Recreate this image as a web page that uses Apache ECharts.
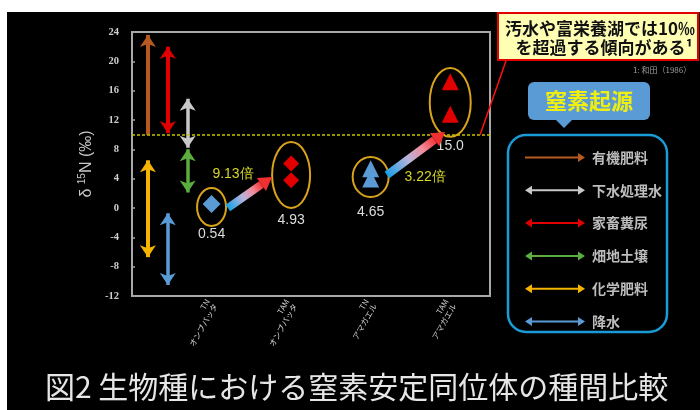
<!DOCTYPE html>
<html>
<head>
<meta charset="utf-8">
<script src="https://cdn.jsdelivr.net/npm/echarts@6/dist/echarts.min.js"></script>
<style>
  html, body { margin: 0; padding: 0; background: #000; }
  #chart { width: 700px; height: 410px; }
</style>
</head>
<body>
<div id="chart"></div>
<script>
// ---- data -------------------------------------------------------------
const yTicks = [-12, -8, -4, 0, 4, 8, 12, 16, 20, 24];
const categories = ['TN\nオンブバッタ', 'TAM\nオンブバッタ', 'TN\nアマガエル', 'TAM\nアマガエル'];
const categoryPos = [2, 4, 6, 8];

// δ15N (‰) of the individual samples
const tnOnbu = [0.54];
const tamOnbu = [6.06, 3.80];
const tnAma = [5.35, 3.95];
const tamAma = [17.2, 12.8];
const meanLabels = ['0.54', '4.93', '4.65', '15.0'];
const ratioLabels = ['9.13倍', '3.22倍'];

// typical δ15N ranges of nitrogen sources (‰)
const sourceNames = ['有機肥料', '下水処理水', '家畜糞尿', '畑地土壌', '化学肥料', '降水'];
const sourceLow = [10.0, 8.2, 10.2, 2.1, -6.7, -10.5];
const sourceHigh = [23.6, 14.9, 22.0, 8.0, 6.5, -0.7];

const threshold = 10;

// ---- drawing ----------------------------------------------------------
const JP = '"Noto Sans CJK JP", "Noto Sans", sans-serif';
const chart = echarts.init(document.getElementById('chart'));

const sourceStyle = [
  { color: '#b65a22', x: 0.4, width: 4,   heads: ['none', 'arrow'] },
  { color: '#c8c8c8', x: 1.4, width: 3.5, heads: ['arrow', 'arrow'] },
  { color: '#e00000', x: 0.9, width: 4,   heads: ['arrow', 'arrow'] },
  { color: '#5aad3e', x: 1.4, width: 3.5, heads: ['arrow', 'arrow'] },
  { color: '#f5b400', x: 0.4, width: 4,   heads: ['arrow', 'arrow'] },
  { color: '#5b9bd5', x: 0.9, width: 3.5, heads: ['arrow', 'arrow'] }
];

const sampleGroups = [tnOnbu, tamOnbu, tnAma, tamAma];
const sampleStyle = [
  { symbol: 'diamond',  color: '#5b9bd5', size: 18 },
  { symbol: 'diamond',  color: '#e00000', size: 16 },
  { symbol: 'triangle', color: '#5b9bd5', size: 17 },
  { symbol: 'triangle', color: '#e00000', size: 17 }
];

// outline rings around each group (value extents) and the gap to the mean label
const rings = [
  { top: 2.73, bottom: -2.45, rx: 14.5, gap: 8 },
  { top: 9.0,  bottom: 0.0,   rx: 19,   gap: 12 },
  { top: 6.95, bottom: 1.5,   rx: 18,   gap: 15 },
  { top: 19.1, bottom: 9.7,   rx: 20.5, gap: 9 }
];

// enrichment arrows: start, tip, ratio label anchor
const transfers = [
  [2.41, 0.0, 3.52, 4.23, 2.54, 4.64],
  [6.41, 4.5, 7.87, 10.36, 7.37, 4.23]
];

const arrowPath2 = 'path://M0,4.5 L7,0 L7,3.5 L53,3.5 L53,0 L60,4.5 L53,9 L53,5.5 L7,5.5 L7,9 Z';
const arrowPath1 = 'path://M0,3.5 L53,3.5 L53,0 L60,4.5 L53,9 L53,5.5 L0,5.5 Z';

const series = [];

sourceNames.forEach((name, i) => {
  const s = sourceStyle[i];
  series.push({
    name: name,
    type: 'lines',
    coordinateSystem: 'cartesian2d',
    silent: true,
    z: 3,
    symbol: s.heads,
    symbolSize: 12,
    lineStyle: { color: s.color, width: s.width, opacity: 1, curveness: 0 },
    data: [{ coords: [[s.x, sourceLow[i]], [s.x, sourceHigh[i]]] }]
  });
});

sampleGroups.forEach((vals, i) => {
  const st = sampleStyle[i];
  const item = {
    name: categories[i],
    type: 'scatter',
    silent: true,
    z: 5,
    symbol: st.symbol,
    symbolSize: st.size,
    itemStyle: { color: st.color, opacity: 1 },
    data: vals.map(v => [categoryPos[i], v])
  };
  if (i === 0) {
    item.markLine = {
      silent: true,
      symbol: 'none',
      label: { show: false },
      lineStyle: { color: '#c8c400', type: [3, 2], width: 1.5 },
      data: [{ yAxis: threshold }]
    };
  }
  series.push(item);
});

series.push({
  type: 'custom',
  silent: true,
  z: 4,
  clip: false,
  encode: { x: 0, y: [1, 2] },
  data: rings.map((r, i) => [categoryPos[i], r.top, r.bottom]),
  renderItem: function (params, api) {
    const r = rings[params.dataIndex];
    const pt = api.coord([api.value(0), api.value(1)]);
    const pb = api.coord([api.value(0), api.value(2)]);
    const cy = (pt[1] + pb[1]) / 2;
    const ry = (pb[1] - pt[1]) / 2;
    return {
      type: 'group',
      children: [
        { type: 'ellipse', shape: { cx: pt[0], cy: cy, rx: r.rx, ry: ry },
          style: { fill: 'none', stroke: '#d9a21b', lineWidth: 2 } },
        { type: 'text', x: pt[0], y: pb[1] + r.gap,
          style: { text: meanLabels[params.dataIndex], fill: '#dcdcdc',
                   font: '14px "Liberation Sans", Arial, sans-serif',
                   align: 'center', verticalAlign: 'middle' } }
      ]
    };
  }
});

series.push({
  type: 'custom',
  silent: true,
  z: 6,
  clip: false,
  encode: { x: [0, 2], y: [1, 3] },
  data: transfers,
  renderItem: function (params, api) {
    const a = api.coord([api.value(0), api.value(1)]);
    const b = api.coord([api.value(2), api.value(3)]);
    const t = api.coord([api.value(4), api.value(5)]);
    const dx = b[0] - a[0], dy = b[1] - a[1];
    const L = Math.hypot(dx, dy);
    const ux = dx / L, uy = dy / L, nx = -uy, ny = ux;
    const headLen = 13, headW = 8, shaftW = 4;
    const hb = [b[0] - ux * headLen, b[1] - uy * headLen];
    const grad = new echarts.graphic.LinearGradient(a[0], a[1], hb[0], hb[1], [
      { offset: 0, color: '#169fe6' },
      { offset: 0.45, color: '#b8b4dc' },
      { offset: 0.75, color: '#f28a9a' },
      { offset: 1, color: '#f03838' }
    ], true);
    return {
      type: 'group',
      children: [
        { type: 'polygon',
          shape: { points: [
            [a[0] + nx * shaftW, a[1] + ny * shaftW],
            [hb[0] + nx * shaftW, hb[1] + ny * shaftW],
            [hb[0] - nx * shaftW, hb[1] - ny * shaftW],
            [a[0] - nx * shaftW, a[1] - ny * shaftW]] },
          style: { fill: grad } },
        { type: 'polygon',
          shape: { points: [b,
            [hb[0] + nx * headW, hb[1] + ny * headW],
            [hb[0] - nx * headW, hb[1] - ny * headW]] },
          style: { fill: '#f03030' } },
        { type: 'text', x: t[0], y: t[1],
          style: { text: ratioLabels[params.dataIndex], fill: '#d6d62a',
                   font: '14px "Liberation Sans", Arial, sans-serif',
                   align: 'center', verticalAlign: 'middle' } }
      ]
    };
  }
});

const option = {
  backgroundColor: '#000',
  animation: false,
  title: {
    text: '図2 生物種における窒素安定同位体の種間比較',
    left: 40, top: 367,
    textStyle: { color: '#e6e6e6', fontSize: 30, fontWeight: 'normal', fontFamily: JP }
  },
  grid: {
    left: 132, right: 210, top: 32, bottom: 114,
    show: true, borderColor: '#a8a8a8', borderWidth: 2, backgroundColor: 'transparent'
  },
  legend: {
    orient: 'vertical',
    left: 520, top: 145,
    itemWidth: 60, itemHeight: 15,
    itemGap: 17.8,
    selectedMode: false,
    textStyle: { color: '#bdbdbd', fontSize: 14, fontWeight: 'bold', fontFamily: JP,
                 lineHeight: 15, padding: [0, 0, 0, 2] },
    data: sourceNames.map((n, i) => ({
      name: n,
      icon: sourceStyle[i].heads[0] === 'none' ? arrowPath1 : arrowPath2,
      itemStyle: { color: sourceStyle[i].color, borderWidth: 0 }
    }))
  },
  xAxis: {
    type: 'value', min: 0, max: 9, interval: 1,
    axisLine: { show: false }, axisTick: { show: false }, splitLine: { show: false },
    axisLabel: {
      rotate: 60, fontSize: 8, lineHeight: 9, color: '#cfcfcf', fontFamily: JP, margin: 6,
      showMinLabel: true, showMaxLabel: true,
      formatter: function (v) {
        const k = categoryPos.indexOf(Math.round(v));
        return (k >= 0 && Math.abs(v - categoryPos[k]) < 1e-6) ? categories[k] : '';
      }
    }
  },
  yAxis: {
    type: 'value', min: yTicks[0], max: yTicks[yTicks.length - 1], interval: 4,
    name: '{d|δ }{s|15}{d|N (‰)}',
    nameLocation: 'middle', nameRotate: 90, nameGap: 31,
    nameTextStyle: {
      color: '#c8c8c8',
      rich: {
        d: { fontSize: 16, color: '#c8c8c8', fontFamily: '"Liberation Sans", Arial, sans-serif', lineHeight: 18 },
        s: { fontSize: 10, color: '#c8c8c8', fontFamily: '"Liberation Sans", Arial, sans-serif', verticalAlign: 'top', lineHeight: 12 }
      }
    },
    axisLine: { show: false },
    axisTick: { show: true, inside: true, length: 3, lineStyle: { color: '#a8a8a8', width: 1.5 } },
    splitLine: { show: false },
    axisLabel: { color: '#cfcfcf', fontSize: 10.5, fontWeight: 'bold',
                 fontFamily: '"Liberation Serif", "DejaVu Serif", serif', margin: 13 }
  },
  graphic: [
    { type: 'rect', z: 100, shape: { x: 0, y: 0, width: 700, height: 12 }, style: { fill: '#fff' } },
    { type: 'rect', z: 100, shape: { x: 0, y: 0, width: 7, height: 410 }, style: { fill: '#fff' } },
    // callout about the 10‰ threshold
    { type: 'line', z: 50, shape: { x1: 507, y1: 58, x2: 480, y2: 135 },
      style: { stroke: '#ff1010', lineWidth: 1.5 } },
    { type: 'rect', z: 50, shape: { x: 498, y: 13, width: 200, height: 47 },
      style: { fill: '#ffffb4', stroke: '#e00000', lineWidth: 2 } },
    { type: 'text', z: 51, x: 600, y: 29,
      style: { text: '汚水や富栄養湖では10‰', fill: '#111', font: 'bold 17px ' + JP,
               align: 'center', verticalAlign: 'middle' } },
    { type: 'text', z: 51, x: 604, y: 48,
      style: { text: 'を超過する傾向がある¹', fill: '#111', font: 'bold 17px ' + JP,
               align: 'center', verticalAlign: 'middle' } },
    { type: 'text', z: 50, x: 633, y: 70,
      style: { text: '1: 和田（1986）', fill: '#9a9a9a', font: '8px ' + JP,
               align: 'left', verticalAlign: 'middle' } },
    // nitrogen source heading and legend frame
    { type: 'rect', z: 50, shape: { x: 528, y: 82, width: 122, height: 38, r: 6 },
      style: { fill: '#5b9bd5' } },
    { type: 'polygon', z: 50, shape: { points: [[555, 119], [573, 119], [564, 128]] },
      style: { fill: '#5b9bd5' } },
    { type: 'text', z: 51, x: 589, y: 101,
      style: { text: '窒素起源', fill: '#eeee10', font: 'bold 22px ' + JP,
               align: 'center', verticalAlign: 'middle' } },
    { type: 'rect', z: 50, shape: { x: 508, y: 135, width: 159, height: 197, r: 18 },
      style: { fill: 'none', stroke: '#1a9ad6', lineWidth: 2.5 } }
  ],
  series: series
};

chart.setOption(option);
</script>
</body>
</html>
